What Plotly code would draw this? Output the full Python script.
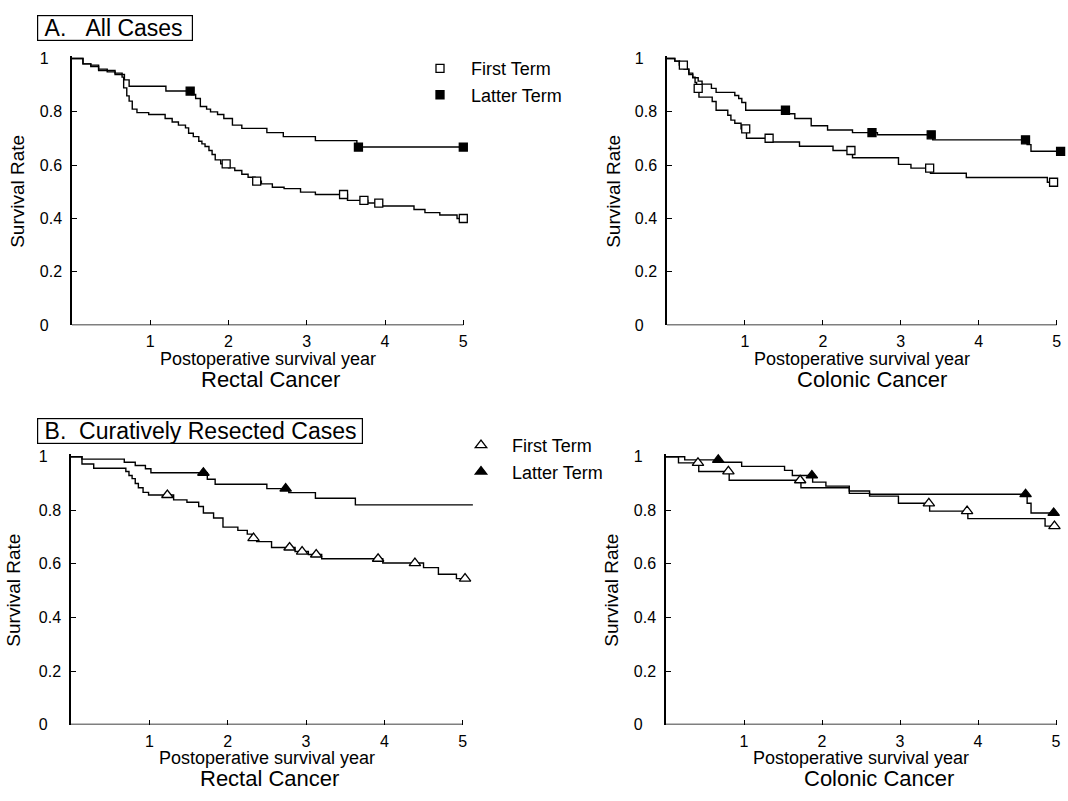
import plotly.graph_objects as go

W, H = 1068, 801
FONT = "Liberation Sans, Arial, Helvetica, sans-serif"
NB = "\u00a0"

# ---------------- data ----------------
year_ticks = [1, 2, 3, 4, 5]
rate_ticks = [0, 0.2, 0.4, 0.6, 0.8, 1]
rate_tick_text = ["0" + NB * 3, "0.2", "0.4", "0.6", "0.8", "1" + NB * 3]

# A. All cases - Rectal cancer
a_rect_first_x = [0, 0.14, 0.24, 0.34, 0.45, 0.55, 0.64, 0.66, 0.70, 0.73, 0.77, 0.83, 0.98, 1.19, 1.28, 1.36,
                  1.45, 1.49, 1.55, 1.62, 1.66, 1.70, 1.75, 1.79, 1.83, 1.90, 2.0, 2.08, 2.17, 2.25, 2.34, 2.42,
                  2.56, 2.71, 2.92, 3.11, 3.52, 3.78, 3.96, 4.37, 4.51, 4.70, 4.92, 5.0]
a_rect_first_y = [1, 0.98, 0.97, 0.955, 0.95, 0.94, 0.93, 0.89, 0.86, 0.84, 0.81, 0.797, 0.79, 0.775, 0.762, 0.75,
                  0.74, 0.72, 0.707, 0.69, 0.68, 0.67, 0.655, 0.64, 0.62, 0.605, 0.59, 0.58, 0.566, 0.555, 0.54, 0.53,
                  0.517, 0.512, 0.499, 0.49, 0.468, 0.458, 0.447, 0.434, 0.422, 0.413, 0.40, 0.40]
a_rect_first_cens = [1.97, 2.36, 3.47, 3.73, 3.92, 5.0]

a_rect_latter_x = [0, 0.14, 0.24, 0.34, 0.45, 0.55, 0.64, 0.67, 0.73, 1.20, 1.53, 1.58, 1.64, 1.72, 1.77, 1.86,
                   1.94, 2.05, 2.17, 2.49, 2.70, 3.11, 3.64, 5.0]
a_rect_latter_y = [1, 0.98, 0.975, 0.96, 0.955, 0.945, 0.94, 0.92, 0.896, 0.878, 0.865, 0.85, 0.82, 0.81, 0.80, 0.79,
                   0.775, 0.75, 0.738, 0.722, 0.707, 0.692, 0.668, 0.668]
a_rect_latter_cens = [1.51, 3.66, 5.0]

# A. All cases - Colonic cancer
a_col_first_x = [0, 0.10, 0.16, 0.22, 0.28, 0.33, 0.36, 0.38, 0.41, 0.58, 0.63, 0.78, 0.82, 0.87, 0.95, 1.02,
                 1.32, 1.70, 2.13, 2.38, 2.97, 3.13, 3.38, 3.84, 4.88, 4.96]
a_col_first_y = [1, 0.99, 0.975, 0.96, 0.945, 0.93, 0.91, 0.888, 0.855, 0.839, 0.806, 0.787, 0.769, 0.757, 0.736,
                 0.701, 0.687, 0.671, 0.655, 0.628, 0.603, 0.589, 0.570, 0.554, 0.536, 0.536]
a_col_first_cens = [0.21, 0.40, 1.01, 1.31, 2.36, 3.37, 4.96]

a_col_latter_x = [0, 0.10, 0.16, 0.22, 0.28, 0.33, 0.40, 0.45, 0.57, 0.63, 0.87, 0.92, 0.96, 1.01, 1.56, 1.64,
                  1.85, 2.06, 2.38, 2.70, 3.41, 4.62, 4.67, 5.05]
a_col_latter_y = [1, 0.99, 0.975, 0.96, 0.94, 0.928, 0.915, 0.904, 0.888, 0.873, 0.861, 0.85, 0.835, 0.806, 0.793,
                  0.775, 0.748, 0.732, 0.722, 0.714, 0.695, 0.677, 0.652, 0.652]
a_col_latter_cens = [1.52, 2.63, 3.39, 4.60, 5.05]

# B. Curatively resected cases - Rectal cancer
b_rect_first_x = [0, 0.14, 0.29, 0.70, 0.74, 0.78, 0.82, 0.86, 0.92, 0.99, 1.31, 1.48, 1.63, 1.69, 1.82, 1.94,
                  2.13, 2.25, 2.31, 2.37, 2.56, 2.86, 3.03, 3.20, 3.98, 4.50, 4.69, 4.92, 5.03]
b_rect_first_y = [1, 0.973, 0.957, 0.945, 0.93, 0.918, 0.90, 0.884, 0.867, 0.857, 0.839, 0.830, 0.814, 0.790,
                  0.771, 0.737, 0.725, 0.711, 0.696, 0.683, 0.661, 0.646, 0.635, 0.619, 0.603, 0.586, 0.561,
                  0.545, 0.545]
b_rect_first_cens = [1.23, 2.33, 2.79, 2.95, 3.13, 3.92, 4.39, 5.03]

b_rect_latter_x = [0, 0.14, 0.68, 0.82, 0.95, 1.02, 1.74, 1.84, 2.50, 2.78, 3.12, 3.63, 5.13]
b_rect_latter_y = [1, 0.991, 0.979, 0.967, 0.955, 0.940, 0.916, 0.897, 0.881, 0.866, 0.845, 0.820, 0.820]
b_rect_latter_cens = [1.69, 2.74]

# B. Curatively resected cases - Colonic cancer
b_col_first_x = [0, 0.16, 0.42, 0.81, 1.73, 2.35, 2.61, 2.98, 3.38, 3.87, 4.86, 4.98]
b_col_first_y = [1, 0.977, 0.945, 0.912, 0.884, 0.863, 0.853, 0.826, 0.797, 0.769, 0.741, 0.741]
b_col_first_cens = [0.41, 0.80, 1.72, 3.37, 3.86, 4.98]

b_col_latter_x = [0, 0.24, 0.69, 0.97, 1.52, 1.62, 1.88, 2.05, 2.35, 2.61, 4.63, 4.68, 4.97]
b_col_latter_y = [1, 0.988, 0.979, 0.964, 0.949, 0.93, 0.905, 0.89, 0.872, 0.86, 0.826, 0.79, 0.79]
b_col_latter_cens = [0.67, 1.87, 4.61, 4.97]

series_names = ["First Term", "Latter Term"]
panel_titles = [NB + "A." + NB * 3 + "All Cases", NB + "B." + NB + " Curatively Resected Cases"]
cancer_names = ["Rectal Cancer", "Colonic Cancer"]
x_title = "Postoperative survival year"
y_title = "Survival Rate"


def step_value(xs, ys, t):
    v = ys[0]
    for xv, yv in zip(xs, ys):
        if xv <= t + 1e-9:
            v = yv
    return v


# ---------------- layout geometry (pixels) ----------------
XMAX_WANT, YMAX = 5.16, 1.01
panels = {
    # axis suffix: (px of x=0, px of x=5, py of y=0, py of y=1)
    "": (72, 463.3, 325.3, 53.5),
    "2": (667, 1056.7, 325.3, 53.5),
    "3": (71, 462.7, 732.3, 459.3),
    "4": (666, 1056, 732.3, 459.3),
}


def xdom(p0, p5):
    s = (p5 - p0) / 5.0
    right = min(p0 + XMAX_WANT * s, W - 1)
    return [p0 / W, right / W], (right - p0) / s


def ydom(q0, q1):
    s = q0 - q1
    return [1 - q0 / H, 1 - (q0 - YMAX * s) / H]


fig = go.Figure()

plots = [
    ("", a_rect_first_x, a_rect_first_y, a_rect_first_cens, a_rect_latter_x, a_rect_latter_y, a_rect_latter_cens, "square", "legend"),
    ("2", a_col_first_x, a_col_first_y, a_col_first_cens, a_col_latter_x, a_col_latter_y, a_col_latter_cens, "square", "legend"),
    ("3", b_rect_first_x, b_rect_first_y, b_rect_first_cens, b_rect_latter_x, b_rect_latter_y, b_rect_latter_cens, "triangle-up", "legend2"),
    ("4", b_col_first_x, b_col_first_y, b_col_first_cens, b_col_latter_x, b_col_latter_y, b_col_latter_cens, "triangle-up", "legend2"),
]

for i, (sfx, fx, fy, fc, lx, ly, lc, sym, leg) in enumerate(plots):
    xa, ya = "x" + sfx, "y" + sfx
    for xs, ys in ((fx, fy), (lx, ly)):
        fig.add_trace(go.Scatter(x=xs, y=ys, mode="lines", line=dict(shape="hv", color="black", width=1.4),
                                 xaxis=xa, yaxis=ya, showlegend=False, hoverinfo="skip"))
    msize = 8 if sym == "square" else 10
    for k, (xs, ys, cens) in enumerate(((fx, fy, fc), (lx, ly, lc))):
        fill = "white" if k == 0 else "black"
        fig.add_trace(go.Scatter(
            x=cens, y=[step_value(xs, ys, c) for c in cens], mode="markers",
            marker=dict(symbol=sym, size=msize, color=fill, line=dict(color="black", width=1.3)),
            xaxis=xa, yaxis=ya, name=series_names[k], legend=leg, legendgroup=leg + str(k),
            showlegend=(sfx in ("", "3")), cliponaxis=False))

LEG_FONT = dict(size=18, family=FONT)
layout = dict(
    width=W, height=H, autosize=False,
    margin=dict(l=0, r=0, t=0, b=0),
    paper_bgcolor="white", plot_bgcolor="white",
    font=dict(family=FONT, color="black", size=16),
    legend=dict(x=409 / W, y=1 - 45 / H, xanchor="left", yanchor="top", bgcolor="rgba(0,0,0,0)",
                font=LEG_FONT, itemwidth=52, tracegroupgap=0),
    legend2=dict(x=450 / W, y=1 - 429 / H, xanchor="left", yanchor="top", bgcolor="rgba(0,0,0,0)",
                 font=LEG_FONT, itemwidth=52, tracegroupgap=0),
)

shapes = []
for sfx, (p0, p5, q0, q1) in panels.items():
    dom, xmax = xdom(p0, p5)
    layout["xaxis" + sfx] = dict(
        domain=dom, range=[0, xmax], anchor="y" + sfx, showgrid=False, zeroline=False,
        showline=False, tickmode="array", tickvals=year_ticks, ticktext=[str(t) for t in year_ticks],
        ticks="inside", ticklen=5, tickwidth=1.2, tickcolor="black",
        tickfont=dict(size=16, family=FONT), ticklabelstandoff=5, fixedrange=True)
    layout["yaxis" + sfx] = dict(
        domain=ydom(q0, q1), range=[0, YMAX], anchor="x" + sfx, showgrid=False, zeroline=False,
        showline=True, linecolor="black", linewidth=1.5, tickmode="array", tickvals=rate_ticks,
        ticktext=rate_tick_text, ticks="inside", ticklen=5, tickwidth=1.2, tickcolor="black",
        tickfont=dict(size=16, family=FONT), ticklabelstandoff=5, fixedrange=True)
    shapes.append(dict(type="line", xref="x" + sfx, yref="y" + sfx, x0=0, x1=5, y0=0, y1=0,
                       line=dict(color="black", width=1.5)))

layout["shapes"] = shapes

annotations = []
# panel title boxes
for txt, (x0, y0, x1, y1) in zip(panel_titles, [(37, 9, 193, 35), (37, 420, 363, 446)]):
    annotations.append(dict(text=txt, x=(x0 + x1) / 2 / W, y=1 - (y0 + y1) / 2 / H, xref="paper", yref="paper",
                            xanchor="center", yanchor="middle", showarrow=False, align="left",
                            width=x1 - x0 - 2, height=y1 - y0 - 2, bordercolor="black", borderwidth=1.2,
                            borderpad=0, font=dict(size=23, family=FONT)))
# axis titles and cancer names
for sfx, (p0, p5, q0, q1) in panels.items():
    cxp = (p0 + p5) / 2
    cyp = (q0 + q1) / 2
    left = sfx in ("", "3")
    ytx = (18 if left else 614) if sfx in ("", "2") else (14 if left else 612)
    annotations.append(dict(text=y_title, x=ytx / W, y=1 - cyp / H, xref="paper", yref="paper",
                            textangle=-90, showarrow=False, font=dict(size=19, family=FONT),
                            xanchor="center", yanchor="middle"))
    annotations.append(dict(text=x_title, x=cxp / W, y=1 - (q0 + 34) / H, xref="paper", yref="paper",
                            showarrow=False, font=dict(size=18, family=FONT), xanchor="center", yanchor="middle"))
    dx = 3 if left else (10 if sfx == "2" else 18)
    annotations.append(dict(text=cancer_names[0 if left else 1], x=(cxp + dx) / W,
                            y=1 - (q0 + 55) / H, xref="paper", yref="paper", showarrow=False,
                            font=dict(size=22, family=FONT), xanchor="center", yanchor="middle"))
layout["annotations"] = annotations

fig.update_layout(**layout)
fig.write_html("out.html", config={"displayModeBar": False},
               post_script="document.body.style.margin='0';document.body.style.padding='0';"
                           "document.documentElement.style.overflow='hidden';")
